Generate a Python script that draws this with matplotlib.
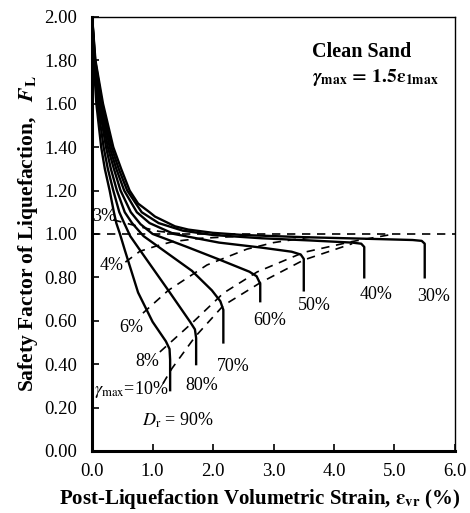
import matplotlib
matplotlib.use('Agg')
import matplotlib.pyplot as plt

plt.rcParams['font.family'] = ['Liberation Serif', 'DejaVu Serif']
plt.rcParams['mathtext.fontset'] = 'stix'

# relative density curves: Dr (%) -> (strain, FL)
dr_labels = ['30%', '40%', '50%', '60%', '70%', '80%', '90%']
ev_30 = [0, 0.055, 0.18, 0.35, 0.48, 0.62, 0.76, 0.95, 1.04, 1.37, 1.59, 2.0, 2.5, 3.5, 4.5, 5.3, 5.45, 5.5, 5.5]
fl_30 = [2.0, 1.8, 1.6, 1.4, 1.3, 1.2, 1.14, 1.1, 1.08, 1.035, 1.02, 1.005, 0.995, 0.985, 0.978, 0.972, 0.968, 0.955, 0.80]
ev_40 = [0, 0.05, 0.165, 0.32, 0.44, 0.58, 0.82, 1.10, 1.50, 2.0, 2.8, 3.6, 4.3, 4.45, 4.5, 4.5]
fl_40 = [2.0, 1.8, 1.6, 1.4, 1.3, 1.2, 1.1, 1.05, 1.015, 0.995, 0.98, 0.97, 0.96, 0.955, 0.94, 0.80]
ev_50 = [0, 0.045, 0.15, 0.29, 0.40, 0.53, 0.74, 0.95, 1.35, 2.1, 2.8, 3.3, 3.45, 3.5, 3.5]
fl_50 = [2.0, 1.8, 1.6, 1.4, 1.3, 1.2, 1.1, 1.05, 1.0, 0.96, 0.937, 0.918, 0.905, 0.885, 0.74]
ev_60 = [0, 0.04, 0.13, 0.26, 0.36, 0.47, 0.64, 0.80, 1.00, 1.57, 2.12, 2.60, 2.72, 2.78, 2.78]
fl_60 = [2.0, 1.8, 1.6, 1.4, 1.3, 1.2, 1.1, 1.045, 1.0, 0.94, 0.88, 0.826, 0.805, 0.77, 0.69]
ev_70 = [0, 0.035, 0.11, 0.23, 0.31, 0.41, 0.54, 0.66, 0.85, 1.17, 1.65, 1.98, 2.12, 2.17, 2.17]
fl_70 = [2.0, 1.8, 1.6, 1.4, 1.3, 1.2, 1.1, 1.05, 0.99, 0.926, 0.83, 0.74, 0.69, 0.65, 0.50]
ev_80 = [0, 0.03, 0.09, 0.19, 0.26, 0.35, 0.45, 0.53, 0.63, 0.79, 1.26, 1.62, 1.70, 1.72, 1.72]
fl_80 = [2.0, 1.8, 1.6, 1.4, 1.3, 1.2, 1.1, 1.05, 0.99, 0.926, 0.74, 0.595, 0.56, 0.52, 0.40]
ev_90 = [0, 0.025, 0.07, 0.15, 0.21, 0.29, 0.36, 0.40, 0.46, 0.54, 0.76, 1.00, 1.22, 1.28, 1.29, 1.29]
fl_90 = [2.0, 1.8, 1.6, 1.4, 1.3, 1.2, 1.1, 1.05, 1.0, 0.926, 0.73, 0.595, 0.505, 0.47, 0.42, 0.28]

# max shear strain contours (dashed)
g_03_x = [0.35, 0.76, 1.10, 1.50]
g_03_y = [1.065, 1.035, 1.012, 1.0]
g_04_x = [0.55, 0.79, 1.07, 1.34, 1.80, 2.50]
g_04_y = [0.87, 0.92, 0.945, 0.965, 0.98, 0.99]
g_06_x = [0.84, 1.26, 1.90, 2.56, 3.00, 3.60]
g_06_y = [0.635, 0.74, 0.857, 0.93, 0.96, 0.985]
g_08_x = [1.12, 1.67, 2.17, 2.73, 3.50, 4.30, 5.00]
g_08_y = [0.456, 0.594, 0.727, 0.825, 0.915, 0.965, 1.0]
g_10_x = [1.17, 1.32, 1.70, 2.17, 2.78, 3.50, 4.30]
g_10_y = [0.31, 0.38, 0.525, 0.67, 0.775, 0.88, 0.955]

xticks = [0, 1, 2, 3, 4, 5, 6]
yticks = [0, 0.2, 0.4, 0.6, 0.8, 1.0, 1.2, 1.4, 1.6, 1.8, 2.0]

fig = plt.figure(figsize=(4.7, 5.13), dpi=100)
ax = fig.add_axes([0.196, 0.121, 0.772, 0.846])

for ev, fl in [(ev_30, fl_30), (ev_40, fl_40), (ev_50, fl_50), (ev_60, fl_60),
               (ev_70, fl_70), (ev_80, fl_80), (ev_90, fl_90)]:
    ax.plot(ev, fl, color='black', lw=1.7, solid_joinstyle='round')

for gx, gy in [(g_03_x, g_03_y), (g_04_x, g_04_y), (g_06_x, g_06_y),
               (g_08_x, g_08_y), (g_10_x, g_10_y)]:
    ax.plot(gx, gy, color='black', lw=1.2, ls=(0, (5, 4)))

ax.axhline(1.0, color='black', lw=1.2, ls=(0, (5, 4)))

# labels on the chart
fs = 13
ax.text(0.0, 1.08, '3%', fontsize=fs, ha='left', va='center')
ax.text(0.33, 0.855, '4%', fontsize=fs, ha='center', va='center')
ax.text(0.64, 0.57, '6%', fontsize=fs, ha='center', va='center')
ax.text(0.92, 0.412, '8%', fontsize=fs, ha='center', va='center')
ax.text(0.64, 0.285, r'$\gamma_{\rm max}$=10%', fontsize=fs, ha='center', va='center')
ax.text(1.41, 0.143, r'$D_{\rm r}$ = 90%', fontsize=fs, ha='center', va='center')
ax.text(1.82, 0.30, '80%', fontsize=fs, ha='center', va='center')
ax.text(2.33, 0.39, '70%', fontsize=fs, ha='center', va='center')
ax.text(2.93, 0.60, '60%', fontsize=fs, ha='center', va='center')
ax.text(3.67, 0.67, '50%', fontsize=fs, ha='center', va='center')
ax.text(4.69, 0.72, '40%', fontsize=fs, ha='center', va='center')
ax.text(5.65, 0.71, '30%', fontsize=fs, ha='center', va='center')

ax.text(3.63, 1.84, 'Clean Sand', fontsize=14.5, fontweight='bold', ha='left', va='center')
ax.text(3.63, 1.72, r'$\boldsymbol{\gamma}_{\mathbf{max}}\,\mathbf{=\,1.5}\boldsymbol{\varepsilon}_{\mathbf{1max}}$',
        fontsize=14, ha='left', va='center')

ax.set_xlim(0, 6)
ax.set_ylim(0, 2)
ax.set_xticks(xticks)
ax.set_yticks(yticks)
ax.set_xticklabels(['%.1f' % v for v in xticks])
ax.set_yticklabels(['%.2f' % v for v in yticks])
ax.tick_params(direction='in', length=5, width=1.2, labelsize=13.5)
ax.tick_params(axis='x', pad=9)
ax.tick_params(axis='y', pad=11)
ax.tick_params(top=False, right=False)

for side in ['left', 'bottom']:
    ax.spines[side].set_linewidth(2.2)
for side in ['top', 'right']:
    ax.spines[side].set_linewidth(1.0)

ax.set_xlabel(r'Post-Liquefaction Volumetric Strain, $\boldsymbol{\varepsilon}_{\mathbf{vr}}$ (%)',
              fontsize=15, fontweight='bold')
ax.xaxis.set_label_coords(0.463, -0.082)
ax.set_ylabel(r'Safety Factor of Liquefaction,   $\boldsymbol{F}_{\mathbf{L}}$',
              fontsize=15.5, fontweight='bold', labelpad=3)

plt.savefig('out.png', dpi=100)
